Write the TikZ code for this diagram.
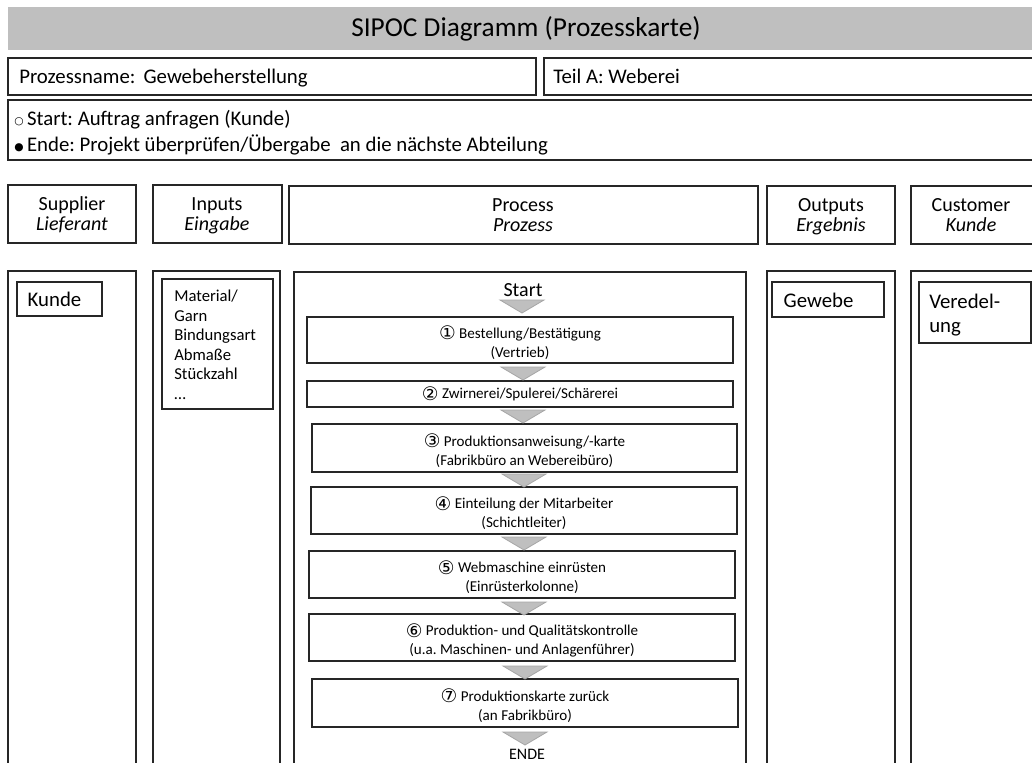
\documentclass[tikz,border=0pt]{standalone}
\usepackage{fontspec}
\setmainfont{Carlito}
\newfontfamily\symf{DejaVu Sans}
\usetikzlibrary{fit}
\newcommand{\cnum}[1]{\raisebox{-1.2pt}{\symf\fontsize{14}{14}\selectfont #1}}
\newcommand{\bul}[1]{\raisebox{1.2pt}{\symf\fontsize{8}{8}\selectfont #1}}
\begin{document}
\frenchspacing
\begin{tikzpicture}[x=0.75pt,y=-0.75pt,
  box/.style={draw=black!85,line width=1.1pt,inner sep=0pt},
  big/.style={font=\fontsize{15.6}{16}\selectfont},
  txtline/.style={font=\fontsize{15.6}{16}\selectfont,anchor=base west,inner sep=0pt},
  hdr/.style={font=\fontsize{15}{15}\selectfont,anchor=base,inner sep=0pt},
  steptxt/.style={font=\fontsize{11.3}{14.2}\selectfont,align=center},
  lst/.style={font=\fontsize{12.5}{14.6}\selectfont,align=left,anchor=north west,inner sep=0pt},
  downtri/.pic={\filldraw[fill=black!25,draw=black!35,line width=0.6pt] (-22,0) -- (22,0) -- (0,13) -- cycle;}
]
\clip (0,0) rectangle (1032,763);
\fill[white] (0,0) rectangle (1032,763);
% title
\node[fit={(8,7) (1045,50)},fill=black!25,inner sep=0pt] (title) {};
\node[font=\fontsize{20.5}{21}\selectfont] (titletxt) at (526,29) {SIPOC Diagramm (Prozesskarte)};
% process name
\node[box,fit={(8,58) (536,95)}] (pname) {};
\node[txtline] (pnametxt) at (19,84) {Prozessname: \,Gewebeherstellung};
\node[box,fit={(544,58) (1045,95)}] (teil) {};
\node[txtline] (teiltxt) at (553,84) {Teil A: Weberei};
% start / end
\node[box,fit={(8,100) (1045,160)}] (se) {};
\node[txtline] (starttxt) at (14,126) {\bul{○}\,Start: Auftrag anfragen (Kunde)};
\node[txtline] (endetxt) at (14,152) {\bul{●}\,Ende: Projekt überprüfen/Übergabe \ an die nächste Abteilung};
% headers
\node[box,fit={(8,185) (136,243)}] (hS) {};
\node[hdr] (hS1) at (72,211) {Supplier};
\node[hdr] (hS2) at (72,231) {\textit{Lieferant}};
\node[box,fit={(153,185) (282,243)}] (hI) {};
\node[hdr] (hI1) at (217,211) {Inputs};
\node[hdr] (hI2) at (217,231) {\textit{Eingabe}};
\node[box,fit={(289,186) (758,244)}] (hP) {};
\node[hdr] (hP1) at (523,212) {Process};
\node[hdr] (hP2) at (523,232) {\textit{Prozess}};
\node[box,fit={(767,186) (895,244)}] (hO) {};
\node[hdr] (hO1) at (831,212) {Outputs};
\node[hdr] (hO2) at (831,232) {\textit{Ergebnis}};
\node[box,fit={(911,186) (1045,244)}] (hC) {};
\node[hdr] (hC1) at (971,212) {Customer};
\node[hdr] (hC2) at (971,232) {\textit{Kunde}};
% columns
\node[box,fit={(8,271) (136,775)}] (cS) {};
\node[box,fit={(153,271) (280,775)}] (cI) {};
\node[box,fit={(294,272) (746,775)}] (cP) {};
\node[box,fit={(767,271) (895,775)}] (cO) {};
\node[box,fit={(911,271) (1045,775)}] (cC) {};
% column contents
\node[box,fit={(17,282) (102,316)}] (kunde) {};
\node[big,anchor=west] (kundetxt) at (23,299) {Kunde};
\node[box,fit={(162,279) (273,409)}] (inp) {};
\node[lst] (inptxt) at (174,290) {Material/\\Garn\\Bindungsart\\Abmaße\\Stückzahl\\…};
\node[box,fit={(772,282) (884,317)}] (gewebe) {};
\node[big,anchor=west] (gewebetxt) at (779,300) {Gewebe};
\node[box,fit={(919,282) (1031,343)}] (vered) {};
\node[big,anchor=north west,align=left,inner sep=0pt,font=\fontsize{15.6}{18}\selectfont] (veredtxt) at (929,294) {Veredel-\\ung};
% process steps
\node[font=\fontsize{15}{16}\selectfont] (start) at (523,290) {Start};
\node[box,fit={(307,317) (733,363)}] (s1) {};
\node[steptxt] at ([yshift=-2]s1.center) {\cnum{①} Bestellung/Bestätigung\\(Vertrieb)};
\node[box,fit={(307,381) (733,407)}] (s2) {};
\node[steptxt] at (s2.center) {\cnum{②} Zwirnerei/Spulerei/Schärerei};
\node[box,fit={(312,424) (737,472)}] (s3) {};
\node[steptxt] at ([yshift=-2]s3.center) {\cnum{③} Produktionsanweisung/-karte\\(Fabrikbüro an Webereibüro)};
\node[box,fit={(311,487) (737,534)}] (s4) {};
\node[steptxt] at ([yshift=-2]s4.center) {\cnum{④} Einteilung der Mitarbeiter\\(Schichtleiter)};
\node[box,fit={(309,551) (735,598)}] (s5) {};
\node[steptxt] at ([yshift=-2]s5.center) {\cnum{⑤} Webmaschine einrüsten\\(Einrüsterkolonne)};
\node[box,fit={(309,614) (735,661)}] (s6) {};
\node[steptxt] at ([yshift=-2]s6.center) {\cnum{⑥} Produktion- und Qualitätskontrolle\\(u.a. Maschinen- und Anlagenführer)};
\node[box,fit={(312,679) (738,727)}] (s7) {};
\node[steptxt] at ([yshift=-2]s7.center) {\cnum{⑦} Produktionskarte zurück\\(an Fabrikbüro)};
\node[font=\fontsize{12}{13}\selectfont] (ende) at (527,754) {ENDE};
% triangles
\pic at (522,300) {downtri};
\pic at (523,367) {downtri};
\pic at (523,410) {downtri};
\pic at (524,474) {downtri};
\pic at (524,537) {downtri};
\pic at (524,602) {downtri};
\pic at (525,666) {downtri};
\pic at (525,732) {downtri};
\end{tikzpicture}
\end{document}
